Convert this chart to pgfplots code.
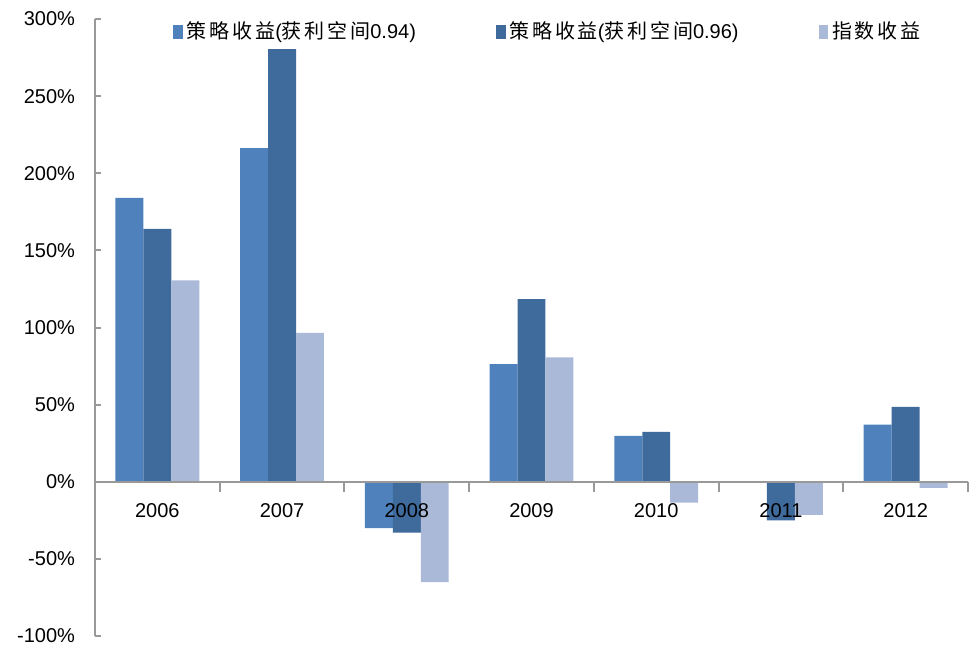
\documentclass[border=0pt]{standalone}
\usepackage{pgfplots}
\pgfplotsset{compat=1.18}
\usepackage{fontspec}
\setmainfont{Liberation Sans}
\newfontfamily\cjk[LetterSpace=14]{Noto Sans CJK SC}
\definecolor{cA}{HTML}{4F81BD}
\definecolor{cB}{HTML}{3F6A9C}
\definecolor{cC}{HTML}{AAB9D7}
\definecolor{axgray}{HTML}{999999}
\begin{document}
\begin{tikzpicture}
\useasboundingbox (0,0) rectangle (489pt,330pt);
\begin{axis}[
  at={(47.5pt,12pt)}, anchor=south west,
  width=436.5pt, height=308.5pt, scale only axis,
  font=\fontsize{10}{12}\selectfont,
  axis x line=middle, axis y line=left,
  axis line style={-, draw=axgray, line width=1pt},
  axis on top,
  xmin=-0.5, xmax=6.5, ymin=-100, ymax=300,
  xtick={0,...,6},
  xticklabels={2006,2007,2008,2009,2010,2011,2012},
  minor xtick={-0.5,0.5,...,6.5},
  major x tick style={draw=none},
  minor x tick style={draw=axgray, line width=1pt},
  minor tick length=5pt,
  ytick={-100,-50,0,50,100,150,200,250,300},
  yticklabels={-100\%,-50\%,0\%,50\%,100\%,150\%,200\%,250\%,300\%},
  y tick style={draw=axgray, line width=1pt},
  major tick length=3pt,
  tick align=inside,
  xticklabel style={yshift=-4.5pt},
  yticklabel style={xshift=-6.5pt},
  ybar=0pt, bar width=0.224,
  legend columns=3,
  legend style={draw=none, fill=none, at={(0.52,0.979)}, anchor=center,
    font=\fontsize{10}{12}\selectfont,
    /tikz/every even column/.append style={column sep=38pt}},
  legend image code/.code={\fill[#1] (0pt,-3.5pt) rectangle (4.8pt,3.5pt);},
]
\addplot[fill=cA, draw=none] coordinates {(0,184) (1,216.3) (2,-30) (3,76.3) (4,29.8) (5,-0.6) (6,37)};
\addplot[fill=cB, draw=none] coordinates {(0,164) (1,280.5) (2,-33) (3,118.4) (4,32.4) (5,-25) (6,48.6)};
\addplot[fill=cC, draw=none] coordinates {(0,130.5) (1,96.6) (2,-65) (3,80.6) (4,-13.6) (5,-21.4) (6,-4)};
\legend{{\cjk 策略收益}({\cjk 获利空间}0.94),{\cjk 策略收益}({\cjk 获利空间}0.96),{\cjk 指数收益}}
\end{axis}
\end{tikzpicture}
\end{document}
